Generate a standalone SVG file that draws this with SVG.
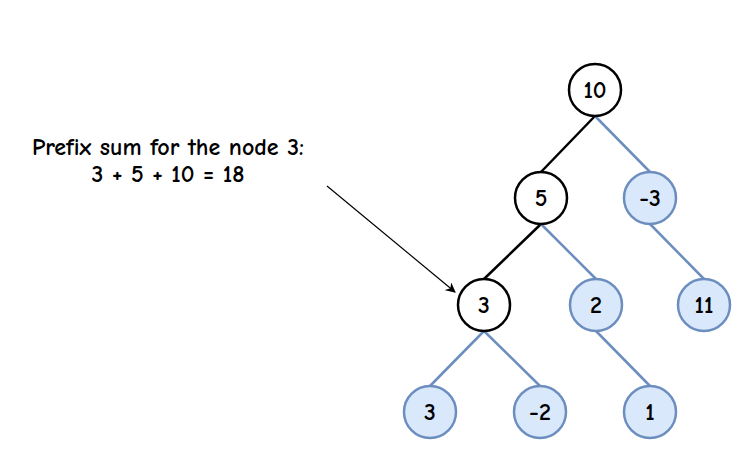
<svg xmlns="http://www.w3.org/2000/svg" width="746" height="456" viewBox="0 0 746 456">
<defs>
<style>
.b{fill:#fff;stroke:#000;stroke-width:2.5}
.l{fill:#dae8fc;stroke:#6c8ebf;stroke-width:2.5}
.t{font-family:"Comic Neue","Liberation Sans",sans-serif;font-size:24px;font-weight:bold;text-anchor:middle;fill:#000}
.eb{stroke:#000;stroke-width:2.5}
.el{stroke:#6c8ebf;stroke-width:2.5}
</style>
<marker id="a" markerWidth="10" markerHeight="10" refX="9" refY="5" orient="auto" markerUnits="userSpaceOnUse"><path d="M0,0 L10,5 L0,10 L3,5 z" fill="#000"/></marker>
</defs>
<g id="connectors" fill="none">
<line class="eb" x1="595" y1="116" x2="541" y2="172"/>
<line class="el" x1="595" y1="116" x2="650" y2="172"/>
<line class="eb" x1="541" y1="224" x2="484" y2="279"/>
<line class="el" x1="541" y1="224" x2="596" y2="279"/>
<line class="el" x1="650" y1="224" x2="704" y2="279"/>
<line class="el" x1="484" y1="331" x2="430" y2="386"/>
<line class="el" x1="484" y1="331" x2="540" y2="386"/>
<line class="el" x1="596" y1="331" x2="650" y2="386"/>
<line stroke="#000" stroke-width="1.2" x1="327" y1="186" x2="455" y2="292" marker-end="url(#a)"/>
</g>
<g id="n10"><circle class="b" cx="595" cy="90" r="26"/><text class="t" x="595" y="98">10</text></g>
<g id="n5"><circle class="b" cx="541" cy="198" r="26"/><text class="t" x="541" y="206">5</text></g>
<g id="nm3"><circle class="l" cx="650" cy="198" r="26"/><text class="t" x="650" y="206">-3</text></g>
<g id="n3"><circle class="b" cx="484" cy="305" r="26"/><text class="t" x="484" y="313">3</text></g>
<g id="n2"><circle class="l" cx="596" cy="305" r="26"/><text class="t" x="596" y="313">2</text></g>
<g id="n11"><circle class="l" cx="704" cy="305" r="26"/><text class="t" x="704" y="313">11</text></g>
<g id="n3b"><circle class="l" cx="430" cy="412" r="26"/><text class="t" x="430" y="420">3</text></g>
<g id="nm2"><circle class="l" cx="540" cy="412" r="26"/><text class="t" x="540" y="420">-2</text></g>
<g id="n1"><circle class="l" cx="650" cy="412" r="26"/><text class="t" x="650" y="420">1</text></g>
<g id="label"><text class="t" x="168" y="155">Prefix sum for the node 3:</text><text class="t" x="168" y="182">3 + 5 + 10 = 18</text></g>
</svg>
